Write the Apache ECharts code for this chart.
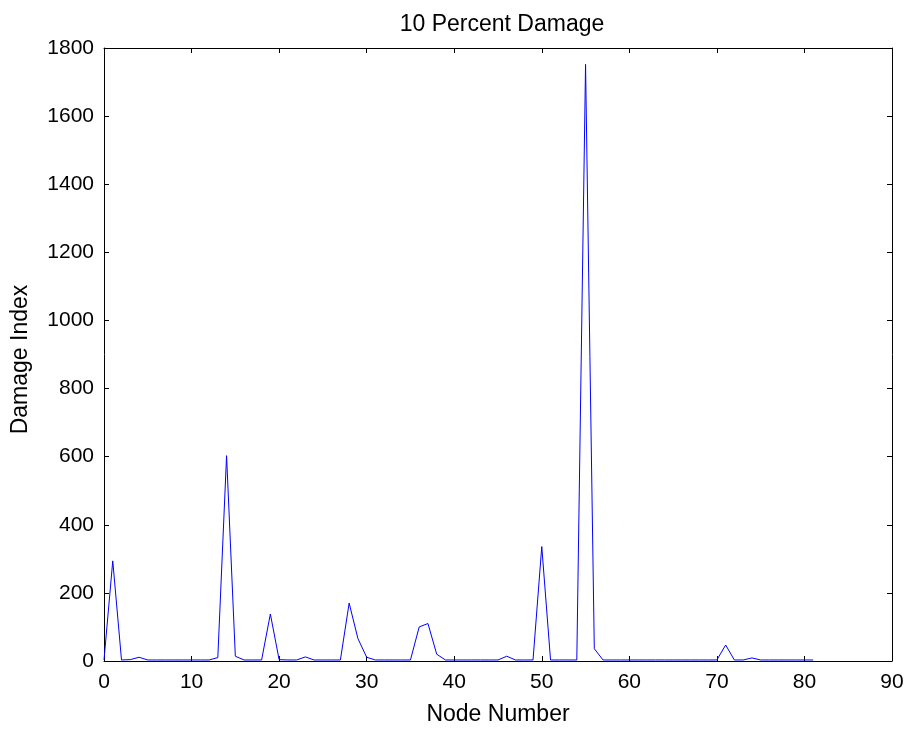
<!DOCTYPE html>
<html>
<head>
<meta charset="utf-8">
<script src="https://cdn.jsdelivr.net/npm/echarts@6/dist/echarts.min.js"></script>
<style>
html,body{margin:0;padding:0;background:#fff;}
#chart{width:912px;height:731px;}
</style>
</head>
<body>
<div id="chart"></div>
<script>
const titleText = "10 Percent Damage";
const xLabel = "Node Number";
const yLabel = "Damage Index";
const nodes = [];
for (let i = 0; i <= 81; i++) nodes.push(i);
const damage = [
  3, 294, 3, 4, 11, 3, 3, 3, 3, 3,
  3, 3, 3, 10, 603, 14, 3, 3, 3, 138,
  4, 3, 3, 12, 3, 3, 3, 3, 170, 66,
  11, 3, 3, 3, 3, 3, 100, 110, 20, 3,
  3, 3, 3, 3, 3, 3, 14, 3, 3, 3,
  336, 3, 3, 3, 3, 1752, 36, 3, 3, 3,
  3, 3, 3, 3, 3, 3, 3, 3, 3, 3,
  3, 47, 3, 3, 9, 3, 3, 3, 3, 3,
  3, 3
];
const xTicks = [0, 90, 10];
const yTicks = [0, 1800, 200];

const font = "Liberation Sans, Arial, sans-serif";
const chart = echarts.init(document.getElementById('chart'), null, {renderer: 'canvas'});
const mkAxisCommon = () => ({
  axisLine: {show: true, onZero: false, lineStyle: {color: '#000', width: 1}},
  axisTick: {show: true, inside: true, length: 5, lineStyle: {color: '#000'}},
  splitLine: {show: false}
});
const plain = v => String(v);
chart.setOption({
  animation: false,
  backgroundColor: '#fff',
  title: {
    text: titleText, left: 497, top: 8, textAlign: 'center',
    textStyle: {fontFamily: font, fontSize: 23, fontWeight: 'normal', color: '#000'}
  },
  grid: {left: 104, right: 20, top: 48, bottom: 69, containLabel: false},
  xAxis: [
    Object.assign(mkAxisCommon(), {
      type: 'value', min: xTicks[0], max: xTicks[1], interval: xTicks[2], position: 'bottom',
      name: xLabel, nameLocation: 'middle', nameGap: 42,
      nameTextStyle: {fontFamily: font, fontSize: 23, color: '#000'},
      axisLabel: {fontFamily: font, fontSize: 21, color: '#000', margin: 11, formatter: plain}
    }),
    Object.assign(mkAxisCommon(), {
      type: 'value', min: xTicks[0], max: xTicks[1], interval: xTicks[2], position: 'top',
      axisLabel: {show: false}
    })
  ],
  yAxis: [
    Object.assign(mkAxisCommon(), {
      type: 'value', min: yTicks[0], max: yTicks[1], interval: yTicks[2], position: 'left',
      name: yLabel, nameLocation: 'middle', nameGap: 72,
      nameTextStyle: {fontFamily: font, fontSize: 23, color: '#000', padding: [0, 10, 0, 0]},
      axisLabel: {fontFamily: font, fontSize: 21, color: '#000', margin: 10, formatter: plain}
    }),
    Object.assign(mkAxisCommon(), {
      type: 'value', min: yTicks[0], max: yTicks[1], interval: yTicks[2], position: 'right',
      axisLabel: {show: false}
    })
  ],
  series: [{
    type: 'line',
    data: nodes.map((n, i) => [n, damage[i]]),
    xAxisIndex: 0, yAxisIndex: 0,
    showSymbol: false, symbol: 'none',
    lineStyle: {color: '#0000ff', width: 1},
    itemStyle: {color: '#0000ff'}
  }]
});
</script>
</body>
</html>
